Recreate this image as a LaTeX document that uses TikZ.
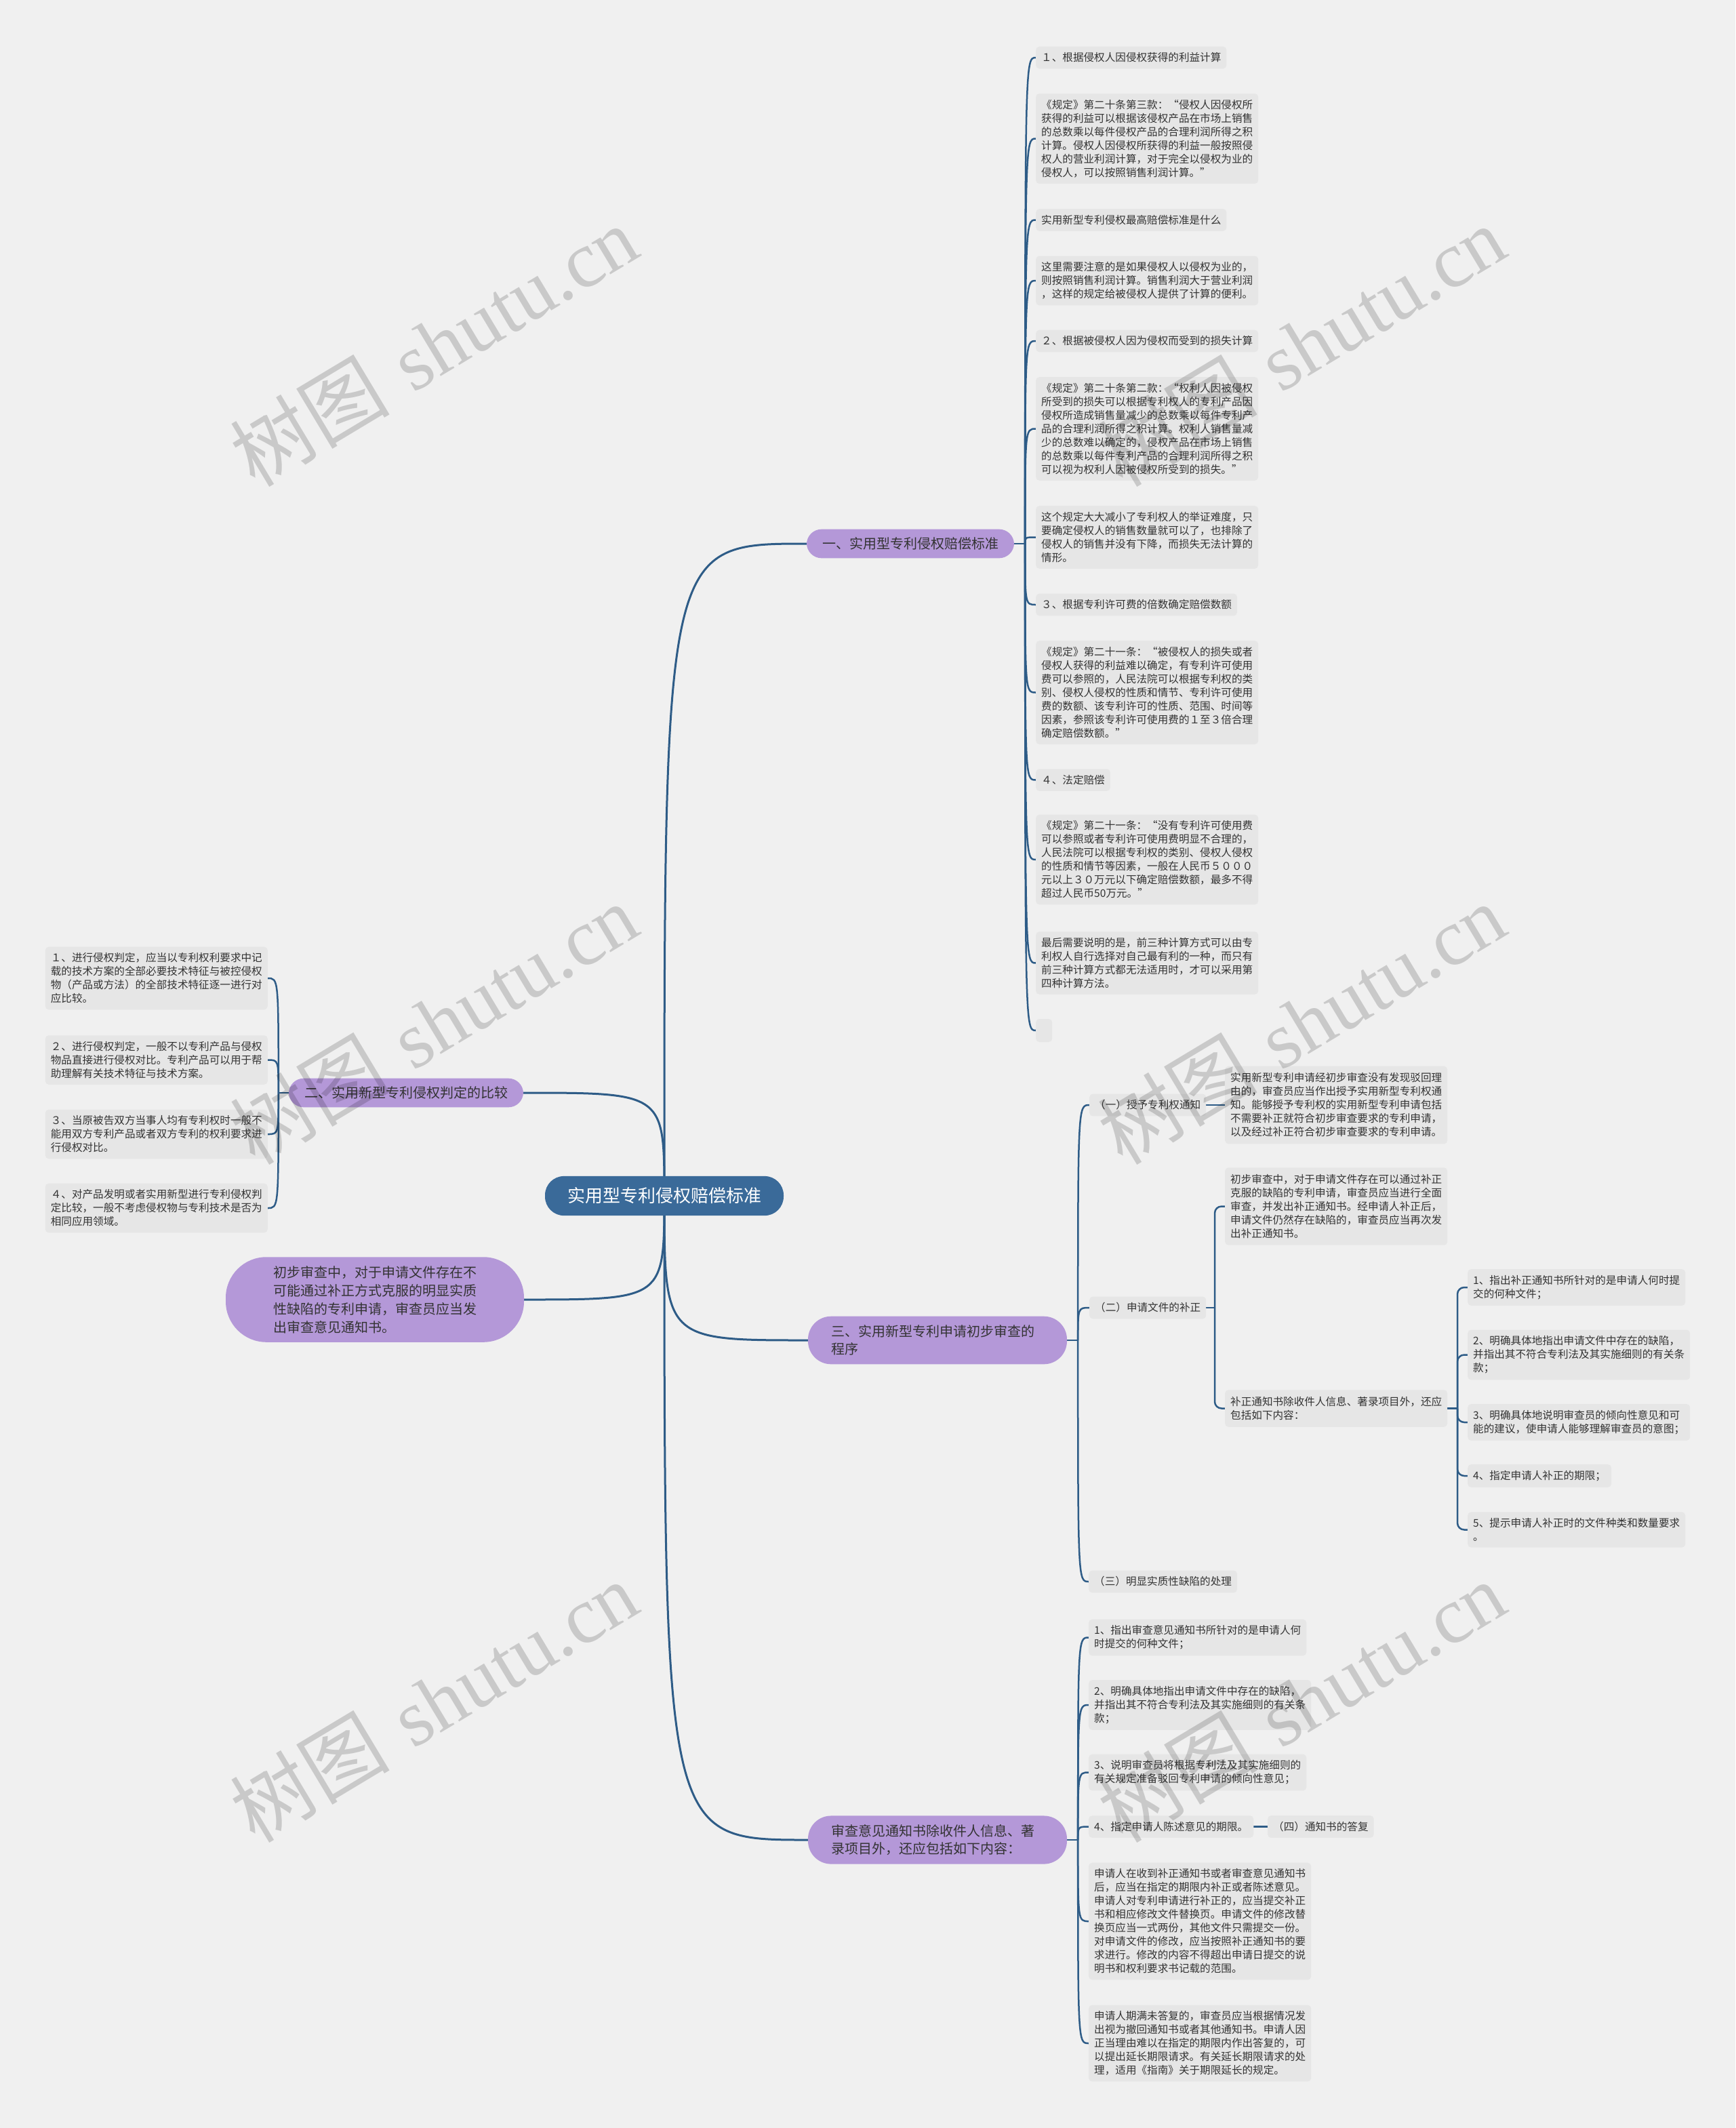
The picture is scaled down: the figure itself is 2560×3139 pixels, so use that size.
\documentclass[tikz,border=0pt]{standalone}
\usepackage{fontspec}
\newfontfamily\cjk{Noto Sans CJK SC}
\newfontfamily\wmfont{Liberation Serif}
\usepackage{xcolor}
\definecolor{mapbg}{RGB}{240,240,240}
\definecolor{notegray}{RGB}{230,230,230}
\definecolor{topicpurple}{RGB}{180,152,216}
\definecolor{rootblue}{RGB}{58,106,153}
\definecolor{linkblue}{RGB}{46,92,135}
\definecolor{textgray}{RGB}{51,51,51}
\usepackage{tikz}
\usetikzlibrary{backgrounds, calc}

\tikzset{
  note/.style={fill=notegray, rounded corners=5pt, inner xsep=8pt, inner ysep=9pt,
    align=left, text=textgray, font=\cjk\fontsize{15.6}{20}\selectfont},
  topic/.style={fill=topicpurple, rounded corners=22pt, inner xsep=23pt, inner ysep=12pt,
    text=textgray, font=\cjk\fontsize{20}{26}\selectfont},
  topicwide/.style={topic, rounded corners=34pt, text width=314pt, align=left,
    inner xsep=34pt, inner ysep=13pt},
  root/.style={fill=rootblue, rounded corners=28pt, inner xsep=33pt, inner ysep=17pt,
    text=white, font=\cjk\fontsize{26}{30}\selectfont},
  link/.style={draw=linkblue, line width=2.5pt},
  mainlink/.style={draw=linkblue, line width=3pt},
  wmark/.style={text=black, opacity=0.16, rotate=31, font=\fontsize{118}{118}\selectfont}
}

\begin{document}
\begin{tikzpicture}[x=1pt, y=-1pt]
  \useasboundingbox (0,0) rectangle (2560,3139);
  % Background
  \begin{scope}[on background layer]
    \fill[mapbg] (0,0) rectangle (2560,3139);
  \end{scope}

  % Root and main topics
  \node[root] (root) at (980,1764) {实用型专利侵权赔偿标准};
  \node[topic] (b1) at (1343,802) {一、实用型专利侵权赔偿标准};
  \node[topic] (b2) at (599,1612) {二、实用新型专利侵权判定的比较};
  \node[topic, rounded corners=60pt, text width=300pt, align=left, inner xsep=70pt,
        inner ysep=13pt, font=\cjk\fontsize{20}{27}\selectfont] (b3) at (553,1917)
       {初步审查中，对于申请文件存在不\\可能通过补正方式克服的明显实质\\性缺陷的专利申请，审查员应当发\\出审查意见通知书。};
  \node[topicwide] (b4) at (1383,1977) {三、实用新型专利申请初步审查的\\程序};
  \node[topicwide] (b5) at (1383,2714) {审查意见通知书除收件人信息、著\\录项目外，还应包括如下内容：};

  % Branch one: compensation standards
  \node[note, anchor=west] (ya) at (1528,85) {１、根据侵权人因侵权获得的利益计算};
  \node[note, anchor=west] (yb) at (1528,204.5)
       {《规定》第二十条第三款：“侵权人因侵权所\\获得的利益可以根据该侵权产品在市场上销售\\的总数乘以每件侵权产品的合理利润所得之积\\计算。侵权人因侵权所获得的利益一般按照侵\\权人的营业利润计算，对于完全以侵权为业的\\侵权人，可以按照销售利润计算。”};
  \node[note, anchor=west] (yc) at (1528,324.5) {实用新型专利侵权最高赔偿标准是什么};
  \node[note, anchor=west] (yd) at (1528,414)
       {这里需要注意的是如果侵权人以侵权为业的，\\则按照销售利润计算。销售利润大于营业利润\\，这样的规定给被侵权人提供了计算的便利。};
  \node[note, anchor=west] (ye) at (1528,503) {２、根据被侵权人因为侵权而受到的损失计算};
  \node[note, anchor=west] (yf) at (1528,632.5)
       {《规定》第二十条第二款：“权利人因被侵权\\所受到的损失可以根据专利权人的专利产品因\\侵权所造成销售量减少的总数乘以每件专利产\\品的合理利润所得之积计算。权利人销售量减\\少的总数难以确定的，侵权产品在市场上销售\\的总数乘以每件专利产品的合理利润所得之积\\可以视为权利人因被侵权所受到的损失。”};
  \node[note, anchor=west] (yg) at (1528,792.5)
       {这个规定大大减小了专利权人的举证难度，只\\要确定侵权人的销售数量就可以了，也排除了\\侵权人的销售并没有下降，而损失无法计算的\\情形。};
  \node[note, anchor=west] (yh) at (1528,892) {３、根据专利许可费的倍数确定赔偿数额};
  \node[note, anchor=west] (yi) at (1528,1021.5)
       {《规定》第二十一条：“被侵权人的损失或者\\侵权人获得的利益难以确定，有专利许可使用\\费可以参照的，人民法院可以根据专利权的类\\别、侵权人侵权的性质和情节、专利许可使用\\费的数额、该专利许可的性质、范围、时间等\\因素，参照该专利许可使用费的１至３倍合理\\确定赔偿数额。”};
  \node[note, anchor=west] (yj) at (1528,1150.5) {４、法定赔偿};
  \node[note, anchor=west] (yk) at (1528,1268)
       {《规定》第二十一条：“没有专利许可使用费\\可以参照或者专利许可使用费明显不合理的，\\人民法院可以根据专利权的类别、侵权人侵权\\的性质和情节等因素，一般在人民币５０００\\元以上３０万元以下确定赔偿数额，最多不得\\超过人民币50万元。”};
  \node[note, anchor=west] (yl) at (1528,1420.5)
       {最后需要说明的是，前三种计算方式可以由专\\利权人自行选择对自己最有利的一种，而只有\\前三种计算方式都无法适用时，才可以采用第\\四种计算方法。};
  \node[note, anchor=west, minimum width=24pt, minimum height=34pt, inner sep=0pt] (ym) at (1528,1520) {};

  % Branch two: infringement comparison
  \node[note, anchor=east] (la) at (395,1443)
       {１、进行侵权判定，应当以专利权利要求中记\\载的技术方案的全部必要技术特征与被控侵权\\物（产品或方法）的全部技术特征逐一进行对\\应比较。};
  \node[note, anchor=east] (lb) at (395,1563.5)
       {２、进行侵权判定，一般不以专利产品与侵权\\物品直接进行侵权对比。专利产品可以用于帮\\助理解有关技术特征与技术方案。};
  \node[note, anchor=east] (lc) at (395,1673)
       {３、当原被告双方当事人均有专利权时一般不\\能用双方专利产品或者双方专利的权利要求进\\行侵权对比。};
  \node[note, anchor=east] (ld) at (395,1782)
       {４、对产品发明或者实用新型进行专利侵权判\\定比较，一般不考虑侵权物与专利技术是否为\\相同应用领域。};

  % Branch three: preliminary examination
  \node[note, anchor=west] (ga) at (1607,1630) {（一）授予专利权通知};
  \node[note, anchor=west, inner ysep=10pt] (gad) at (1807,1630)
       {实用新型专利申请经初步审查没有发现驳回理\\由的，审查员应当作出授予实用新型专利权通\\知。能够授予专利权的实用新型专利申请包括\\不需要补正就符合初步审查要求的专利申请，\\以及经过补正符合初步审查要求的专利申请。};
  \node[note, anchor=west] (gb) at (1607,1929) {（二）申请文件的补正};
  \node[note, anchor=west, inner ysep=10pt] (gba) at (1807,1779.5)
       {初步审查中，对于申请文件存在可以通过补正\\克服的缺陷的专利申请，审查员应当进行全面\\审查，并发出补正通知书。经申请人补正后，\\申请文件仍然存在缺陷的，审查员应当再次发\\出补正通知书。};
  \node[note, anchor=west, inner ysep=10pt] (gbb) at (1807,2077.5)
       {补正通知书除收件人信息、著录项目外，还应\\包括如下内容：};
  \node[note, anchor=west] (ra) at (2165,1899) {1、指出补正通知书所针对的是申请人何时提\\交的何种文件；};
  \node[note, anchor=west] (rb) at (2165,1998.5) {2、明确具体地指出申请文件中存在的缺陷，\\并指出其不符合专利法及其实施细则的有关条\\款；};
  \node[note, anchor=west] (rc) at (2165,2098) {3、明确具体地说明审查员的倾向性意见和可\\能的建议，使申请人能够理解审查员的意图；};
  \node[note, anchor=west] (rd) at (2165,2177) {4、指定申请人补正的期限；};
  \node[note, anchor=west] (re) at (2165,2256.5) {5、提示申请人补正时的文件种类和数量要求\\。};
  \node[note, anchor=west] (gc) at (1606,2333) {（三）明显实质性缺陷的处理};

  % Branch four: examination opinion notice
  \node[note, anchor=west] (sa) at (1606,2415.5) {1、指出审查意见通知书所针对的是申请人何\\时提交的何种文件；};
  \node[note, anchor=west] (sb) at (1606,2515) {2、明确具体地指出申请文件中存在的缺陷，\\并指出其不符合专利法及其实施细则的有关条\\款；};
  \node[note, anchor=west] (sc) at (1606,2614.5) {3、说明审查员将根据专利法及其实施细则的\\有关规定准备驳回专利申请的倾向性意见；};
  \node[note, anchor=west] (sd) at (1606,2694.5) {4、指定申请人陈述意见的期限。};
  \node[note, anchor=west] (sda) at (1870,2694.5) {（四）通知书的答复};
  \node[note, anchor=west] (se) at (1606,2834)
       {申请人在收到补正通知书或者审查意见通知书\\后，应当在指定的期限内补正或者陈述意见。\\申请人对专利申请进行补正的，应当提交补正\\书和相应修改文件替换页。申请文件的修改替\\换页应当一式两份，其他文件只需提交一份。\\对申请文件的修改，应当按照补正通知书的要\\求进行。修改的内容不得超出申请日提交的说\\明书和权利要求书记载的范围。};
  \node[note, anchor=west] (sf) at (1606,3014)
       {申请人期满未答复的，审查员应当根据情况发\\出视为撤回通知书或者其他通知书。申请人因\\正当理由难以在指定的期限内作出答复的，可\\以提出延长期限请求。有关延长期限请求的处\\理，适用《指南》关于期限延长的规定。};

  % Junctions
  \coordinate (j1) at ([xshift=16pt]b1.east);
  \coordinate (j2) at ([xshift=-15pt]b2.west);
  \coordinate (j4) at ([xshift=16pt]b4.east);
  \coordinate (j5) at ([xshift=16pt]b5.east);
  \coordinate (j6) at (1792,1929);
  \coordinate (j7) at (2150,2077.5);

  % Connectors
  \begin{scope}[on background layer]
    \foreach \t in {b1,b4,b5}
      \draw[mainlink] (root.center) .. controls (root.center |- \t.west) .. (\t.west);
    \foreach \t in {b2,b3}
      \draw[mainlink] (root.center) .. controls (root.center |- \t.east) .. (\t.east);

    \draw[link] (b1.east) -- (j1);
    \foreach \c in {ya,yb,yc,yd,ye,yf,yg,yh,yi,yj,yk,yl,ym}
      \draw[link] (j1) .. controls (j1 |- \c.west) .. (\c.west);

    \draw[link] (b2.west) -- (j2);
    \foreach \c in {la,lb,lc,ld}
      \draw[link] (j2) .. controls (j2 |- \c.east) .. (\c.east);

    \draw[link] (b4.east) -- (j4);
    \foreach \c in {ga,gb,gc}
      \draw[link] (j4) .. controls (j4 |- \c.west) .. (\c.west);
    \draw[link] (ga.east) -- (gad.west);
    \draw[link] (gb.east) -- (j6);
    \foreach \c in {gba,gbb}
      \draw[link, rounded corners=10pt] (j6) |- (\c.west);
    \draw[link] (gbb.east) -- (j7);
    \foreach \c in {ra,rb,rc,rd,re}
      \draw[link, rounded corners=10pt] (j7) |- (\c.west);

    \draw[link] (b5.east) -- (j5);
    \foreach \c in {sa,sb,sc,sd,se,sf}
      \draw[link] (j5) .. controls (j5 |- \c.west) .. (\c.west);
    \draw[link] (sd.east) -- (sda.west);
  \end{scope}

  % Watermarks
  \foreach \wx/\wy [count=\i] in {640/510, 1920/510, 640/1510, 1920/1510, 640/2510, 1920/2510}
    \node[wmark] (wm\i) at (\wx,\wy) {{\cjk 树图} {\wmfont shutu.cn}};
\end{tikzpicture}
\end{document}
